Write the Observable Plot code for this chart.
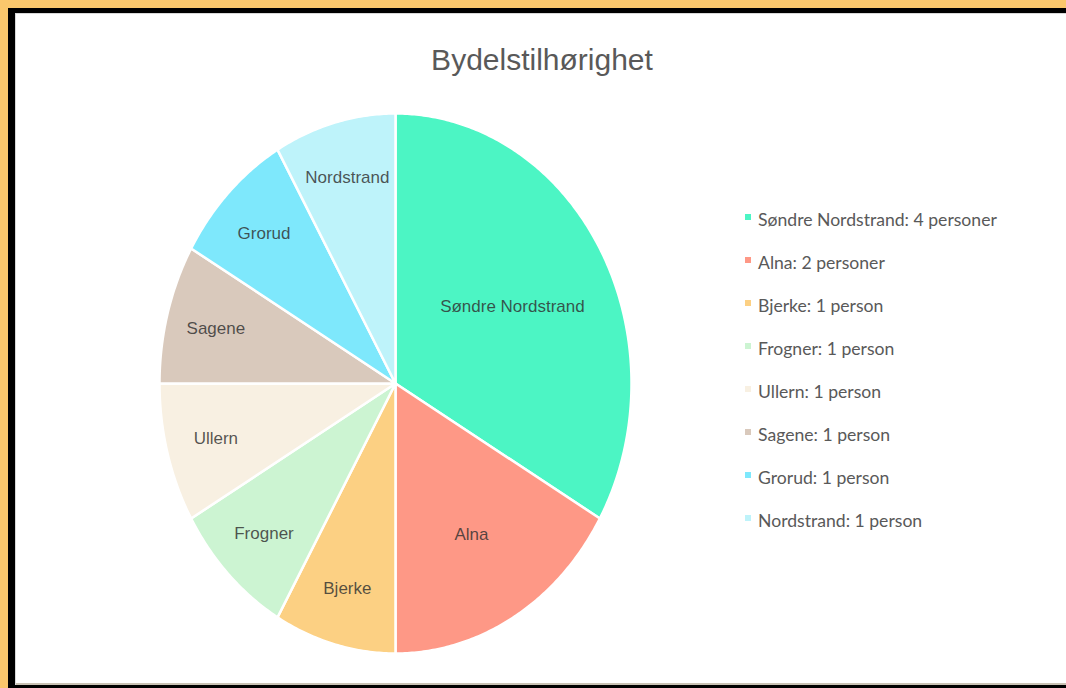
<!DOCTYPE html>
<html>
<head>
<meta charset="utf-8">
<script src="https://cdn.jsdelivr.net/npm/d3@7"></script>
<script src="https://cdn.jsdelivr.net/npm/@observablehq/plot@0.6"></script>
<style>
  html, body { margin: 0; padding: 0; }
  body { width: 1066px; height: 688px; background: #fac76c; position: relative; overflow: hidden; }
  #frame { position: absolute; left: 8px; top: 8px; width: 1070px; height: 680px; background: #000; }
  #panel { position: absolute; left: 15px; top: 13px; width: 1060px; height: 672px; background: #fff;
           box-shadow: inset 0 1px 0 #d8d8d8, inset 1px 0 0 #d8d8d8, inset 0 -2px 0 #c9c2b4; }
  #title { position: absolute; left: 542px; top: 45px; transform: translateX(-50%);
           font-family: "Liberation Sans", Arial, sans-serif; font-size: 30px; line-height: 1; color: #595959; white-space: nowrap; }
  #chart { position: absolute; left: 155px; top: 109px; }
  #legend { position: absolute; left: 745px; top: 198px; font-family: Lato, "Open Sans", sans-serif; font-size: 17.6px; color: #595959; }
  .row { height: 43px; display: flex; align-items: center; white-space: nowrap; }
  .sw { width: 6px; height: 6px; margin-right: 7px; margin-top: -5px; }
</style>
</head>
<body>
<div id="frame"></div>
<div id="panel"></div>
<div id="title">Bydelstilhørighet</div>
<div id="chart"></div>
<div id="legend"></div>
<script>
const districts = ["Søndre Nordstrand", "Alna", "Bjerke", "Frogner", "Ullern", "Sagene", "Grorud", "Nordstrand"];
const persons = [4, 2, 1, 1, 1, 1, 1, 1];
const colors = ["#4cf5c4", "#fe9886", "#fcd083", "#ccf4d2", "#f8f0e2", "#d9c9bc", "#7ee8fc", "#bef3fa"];
const legendLabels = ["Søndre Nordstrand: 4 personer", "Alna: 2 personer", "Bjerke: 1 person", "Frogner: 1 person",
                      "Ullern: 1 person", "Sagene: 1 person", "Grorud: 1 person", "Nordstrand: 1 person"];

const data = districts.map((name, i) => ({name, value: persons[i]}));
const total = d3.sum(persons);
const arcs = d3.pie().value(d => d.value).sort(null)(data);

// Polygon vertices for each slice (angle measured clockwise from 12 o'clock)
const pts = [];
for (const a of arcs) {
  const n = Math.max(8, Math.ceil((a.endAngle - a.startAngle) / 0.01));
  pts.push({name: a.data.name, x: 0, y: 0});
  for (let k = 0; k <= n; k++) {
    const t = a.startAngle + (a.endAngle - a.startAngle) * k / n;
    pts.push({name: a.data.name, x: Math.sin(t), y: Math.cos(t)});
  }
  pts.push({name: a.data.name, x: 0, y: 0});
}
const labels = arcs.map(a => {
  const m = (a.startAngle + a.endAngle) / 2;
  const frac = a.data.value / total;
  const r = 0.5 + 0.024 / frac;
  return {name: a.data.name, x: r * Math.sin(m), y: r * Math.cos(m)};
});

const chart = Plot.plot({
  width: 480, height: 548, margin: 4,
  x: {domain: [-1, 1], axis: null},
  y: {domain: [-1, 1], axis: null},
  color: {domain: districts, range: colors},
  marks: [
    Plot.line(pts, {x: "x", y: "y", z: "name", fill: "name", stroke: "white", strokeWidth: 2.5, strokeLinejoin: "round", curve: "linear"}),
    Plot.text(labels, {x: "x", y: "y", text: "name", fill: "#303030", fillOpacity: 0.82, fontSize: 17,
                       fontFamily: "Liberation Sans, Arial, sans-serif"})
  ]
});
document.getElementById("chart").appendChild(chart);

const legend = document.getElementById("legend");
districts.forEach((d, i) => {
  const row = document.createElement("div");
  row.className = "row";
  const sw = document.createElement("div");
  sw.className = "sw";
  sw.style.background = colors[i];
  row.appendChild(sw);
  const t = document.createElement("span");
  t.textContent = legendLabels[i];
  row.appendChild(t);
  legend.appendChild(row);
});
</script>
</body>
</html>
